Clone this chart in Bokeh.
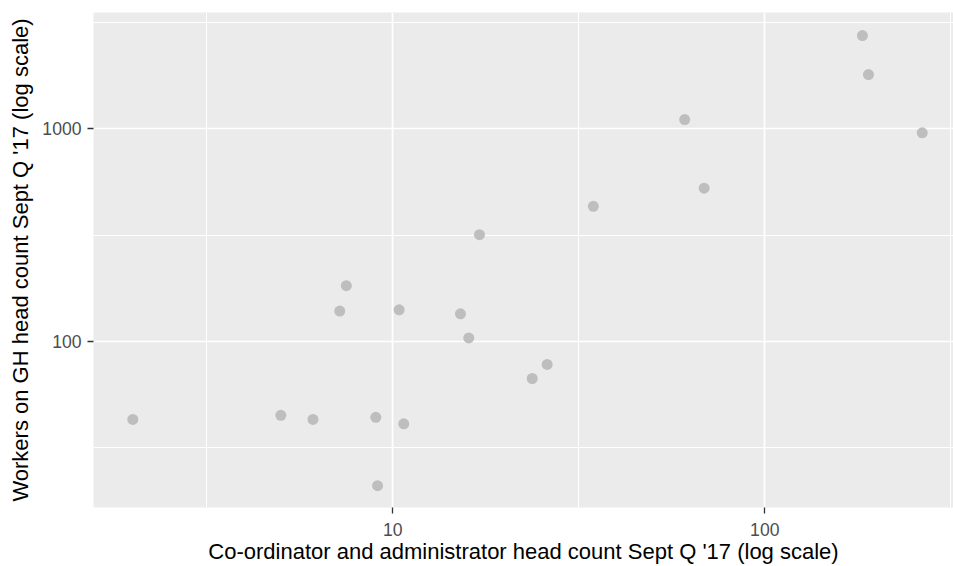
from bokeh.plotting import figure
from bokeh.models import Range1d, FixedTicker, PrintfTickFormatter, ColumnDataSource
from bokeh.embed import file_html
from bokeh.resources import INLINE

# Data
coordinators = [2.0, 5.0, 6.1, 7.2, 7.5, 9.0, 9.1, 10.4, 10.7, 15.2,
                16.0, 17.1, 23.7, 26.0, 34.6, 60.9, 68.7, 183, 190, 265]
workers = [43, 45, 43, 139, 183, 44, 21, 141, 41, 135,
           104, 318, 67, 78, 432, 1106, 526, 2746, 1800, 958]

x_major = [10, 100]
x_minor = [3.1623, 31.623, 316.23]
y_major = [100, 1000]
y_minor = [31.623, 316.23, 3162.3]

x_title = "Co-ordinator and administrator head count Sept Q '17 (log scale)"
y_title = "Workers on GH head count Sept Q '17 (log scale)"

FONT = "Liberation Sans"

p = figure(width=953, height=566, x_axis_type="log", y_axis_type="log",
           x_range=Range1d(1.568, 321.6), y_range=Range1d(16.58, 3523),
           output_backend="svg", toolbar_location=None,
           min_border_left=93, min_border_right=0, min_border_top=12,
           min_border_bottom=59)

p.background_fill_color = "#EBEBEB"
p.border_fill_color = "white"
p.outline_line_color = None

xt = FixedTicker(ticks=x_major, minor_ticks=x_minor)
yt = FixedTicker(ticks=y_major, minor_ticks=y_minor)
p.xaxis.ticker = xt
p.yaxis.ticker = yt
p.xgrid.ticker = xt
p.ygrid.ticker = yt

for g in (p.xgrid, p.ygrid):
    g.grid_line_color = "white"
    g.grid_line_width = 1.7
    g.minor_grid_line_color = "white"
    g.minor_grid_line_width = 1.0

for ax in (p.xaxis, p.yaxis):
    ax.formatter = PrintfTickFormatter(format="%d")
    ax.axis_line_color = None
    ax.minor_tick_line_color = None
    ax.major_tick_line_color = "#333333"
    ax.major_tick_line_width = 1.3
    ax.major_tick_out = 6
    ax.major_tick_in = 0
    ax.major_label_text_font = FONT
    ax.major_label_text_font_size = "17.6px"
    ax.major_label_text_color = "#4D4D4D"
    ax.axis_label_text_font = FONT
    ax.axis_label_text_font_size = "22px"
    ax.axis_label_text_font_style = "normal"
    ax.axis_label_text_color = "black"

p.xaxis.axis_label = x_title
p.yaxis.axis_label = y_title
p.xaxis.major_label_standoff = 9
p.xaxis.axis_label_standoff = 0
p.yaxis.major_label_standoff = 6
p.yaxis.axis_label_standoff = 6

src = ColumnDataSource(dict(x=coordinators, y=workers))
p.scatter("x", "y", source=src, size=11, fill_color="#BEBEBE",
          line_color=None)

open("out.html", "w").write(file_html(p, INLINE))
